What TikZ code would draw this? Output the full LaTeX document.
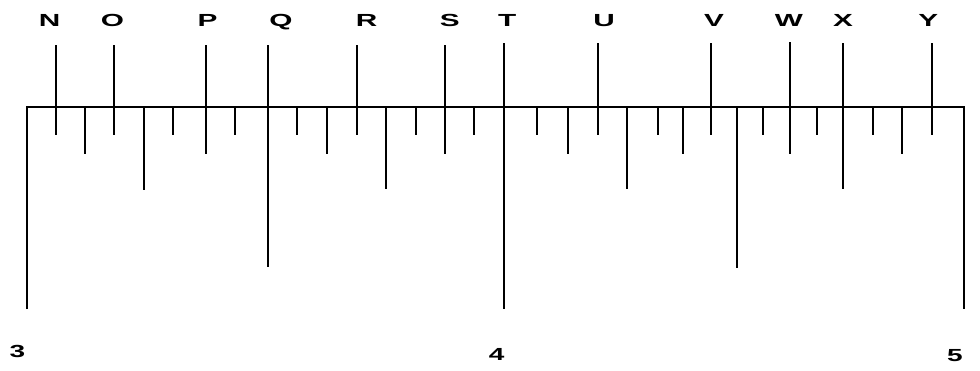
\documentclass[tikz,border=0pt]{standalone}
\usepackage{fontspec}
\setmainfont{Liberation Sans}
\newcommand\widetext[1]{\scalebox{1.7}[1]{#1}}
\newcommand\widedigit[1]{\scalebox{1.6}[1]{#1}}
\tikzset{
  tickline/.style={line width=2.2pt, black},
  letterlbl/.style={font=\bfseries\fontsize{17.5}{17.5}\selectfont, inner sep=0pt, anchor=base},
}
\begin{document}
\begin{tikzpicture}[x=1pt,y=-1pt]
\useasboundingbox (0,0) rectangle (980,370);
% end ticks (3 and 5) joined with the baseline
\coordinate (base3) at (26.7,107);
\coordinate (base5) at (964.3,107);
\coordinate (end3) at (26.7,309);
\coordinate (end5) at (964.3,309);
\draw[tickline] (end3) -- (base3) -- (base5) -- (end5);
% lower ticks
\foreach \x/\d [count=\i] in {
  55.7/135, 85/154, 114.3/135, 144/190, 173.3/135, 206/154, 235.3/135, 268.3/267,
  297.3/135, 326.7/154, 356.7/135, 385.7/189, 415.7/135, 445/154, 474.3/135, 504/309,
  536.7/135, 568.3/154, 598.3/135, 627.3/189, 657.7/135, 683.3/154, 710.7/135, 737.3/268,
  763.3/135, 790/154, 816.7/135, 843.3/189, 872.7/135, 902.3/154, 931.7/135}{
  \coordinate (tb\i) at (\x,107);
  \coordinate (te\i) at (\x,\d);
  \draw[tickline] (tb\i) -- (te\i);
}
% letter ticks and labels
\foreach \nm/\x/\lx/\tp in {
  N/55.7/49.5/45, O/114.3/112.5/45, P/206/207.5/45, Q/268.3/281/45,
  R/356.7/366.7/45, S/445/449.7/45, T/504/507.3/43, U/598.3/604/43,
  V/710.7/714/43, W/790/789/42, X/843.3/843/43, Y/931.7/928.3/43}{
  \node[letterlbl] (L\nm) at (\lx,26.5) {\widetext{\nm}};
  \coordinate (lb\nm) at (\x,107);
  \coordinate (lt\nm) at (\x,\tp);
  \draw[tickline] (lb\nm) -- (lt\nm);
}
% numbers
\node[letterlbl] (n3) at (17.5,357) {\widedigit{3}};
\node[letterlbl] (n4) at (496.7,360.5) {\widedigit{4}};
\node[letterlbl] (n5) at (955,361.5) {\widedigit{5}};
\end{tikzpicture}
\end{document}
